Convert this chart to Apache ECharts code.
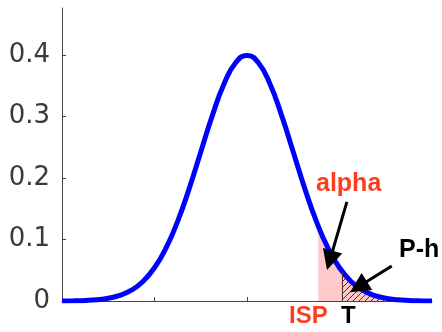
<!DOCTYPE html>
<html>
<head>
<meta charset="utf-8">
<script src="https://cdn.jsdelivr.net/npm/echarts@6/dist/echarts.min.js"></script>
<style>
  html, body { margin: 0; padding: 0; background: #fff; }
  #chart { width: 442px; height: 332px; }
</style>
</head>
<body>
<div id="chart"></div>
<script>
// density curve
const xVals = [-4, -3.75, -3.5, -3.25, -3, -2.75, -2.5, -2.25, -2, -1.75, -1.5, -1.25, -1, -0.75, -0.5, -0.25,
  0, 0.25, 0.5, 0.75, 1, 1.25, 1.5, 1.75, 2, 2.25, 2.5, 2.75, 3, 3.25, 3.5, 3.75, 4];
const yVals = [0.0001, 0.0004, 0.0009, 0.002, 0.0044, 0.0091, 0.0175, 0.0317, 0.054, 0.0863, 0.1295, 0.1826, 0.242, 0.3011, 0.3521, 0.3867,
  0.3989, 0.3867, 0.3521, 0.3011, 0.242, 0.1826, 0.1295, 0.0863, 0.054, 0.0317, 0.0175, 0.0091, 0.0044, 0.002, 0.0009, 0.0004, 0.0001];

// alpha region (ISP -> right tail)
const alphaX = [1.54, 1.75, 2, 2.25, 2.5, 2.75, 3, 3.25, 3.5, 3.75, 4];
const alphaY = [0.122, 0.0863, 0.054, 0.0317, 0.0175, 0.0091, 0.0044, 0.002, 0.0009, 0.0004, 0.0001];

// P-h region (T -> right), hatched
const hatchX = [2.05, 2.25, 2.5, 2.75, 3];
const hatchY = [0.049, 0.0317, 0.0175, 0.0091, 0.0044];

const yTicks = [0, 0.1, 0.2, 0.3, 0.4];
const xTicks = [-2, 0, 2];

// arrows: [start, head]
const alphaArrow = [[2.16, 0.161], [1.79, 0.066]];
const phArrow = [[3.13, 0.057], [2.41, 0.023]];

const zip = (xs, ys) => xs.map((x, i) => [x, ys[i]]);

// hatch pattern
const hatch = document.createElement('canvas');
hatch.width = 6;
hatch.height = 6;
const hctx = hatch.getContext('2d');
hctx.strokeStyle = '#4a3030';
hctx.lineWidth = 1;
hctx.beginPath();
hctx.moveTo(0, 6);
hctx.lineTo(6, 0);
hctx.stroke();

const myChart = echarts.init(document.getElementById('chart'), null, { renderer: 'canvas' });

const axisColor = '#444';
const red = '#ff3c1e';
const boldFont = (size) => `bold ${size}px "Liberation Sans", Arial, sans-serif`;

const arrowLine = (pts) => ({
  silent: true,
  symbol: ['none', 'path://M5,0 L10,13 L0,13 Z'],
  symbolSize: 20,
  label: { show: false },
  itemStyle: { color: '#000' },
  lineStyle: { color: '#000', width: 3, type: 'solid' },
  animation: false,
  data: [[{ coord: pts[0] }, { coord: pts[1] }]],
});

myChart.setOption({
  animation: false,
  grid: { left: 62, right: 10, top: 8, bottom: 31 },
  xAxis: {
    type: 'value',
    min: -4,
    max: 4,
    splitLine: { show: false },
    axisLine: { show: true, lineStyle: { color: axisColor, width: 1 } },
    axisTick: { show: true, inside: true, length: 4, customValues: xTicks, lineStyle: { color: axisColor } },
    axisLabel: { show: false },
  },
  yAxis: {
    type: 'value',
    min: 0,
    max: 0.476,
    splitLine: { show: false },
    axisLine: { show: true, onZero: false, lineStyle: { color: axisColor, width: 1 } },
    axisTick: { show: true, inside: true, length: 4, customValues: yTicks, lineStyle: { color: axisColor } },
    axisLabel: {
      customValues: yTicks,
      color: '#3a3a3a',
      fontFamily: 'DejaVu Sans',
      fontSize: 26,
      margin: 12,
    },
  },
  series: [
    {
      type: 'line',
      data: zip(alphaX, alphaY),
      smooth: true,
      showSymbol: false,
      lineStyle: { width: 0 },
      areaStyle: { color: '#ffc9c9', opacity: 1 },
      z: 1,
      silent: true,
    },
    {
      type: 'line',
      data: zip(hatchX, hatchY),
      smooth: true,
      showSymbol: false,
      lineStyle: { width: 0 },
      areaStyle: { color: { image: hatch, repeat: 'repeat' }, opacity: 1 },
      markLine: {
        silent: true,
        symbol: 'none',
        label: { show: false },
        lineStyle: { color: '#4a3030', width: 1, type: 'solid' },
        data: [[{ coord: [hatchX[0], 0] }, { coord: [hatchX[0], hatchY[0]] }]],
      },
      z: 2,
      silent: true,
    },
    {
      type: 'line',
      data: zip(xVals, yVals),
      smooth: true,
      showSymbol: false,
      lineStyle: { color: '#0000ff', width: 5 },
      z: 3,
    },
    {
      type: 'line',
      data: [],
      markLine: arrowLine(alphaArrow),
      z: 4,
    },
    {
      type: 'line',
      data: [],
      markLine: arrowLine(phArrow),
      z: 4,
    },
  ],
  graphic: [
    { type: 'text', left: 316, top: 172, style: { text: 'alpha', fill: red, font: boldFont(25) } },
    { type: 'text', left: 399, top: 238, style: { text: 'P-h', fill: '#000', font: boldFont(25) } },
    { type: 'text', left: 289, top: 304, style: { text: 'ISP', fill: red, font: boldFont(24) } },
    { type: 'text', left: 341, top: 304, style: { text: 'T', fill: '#000', font: boldFont(24) } },
  ],
});

window.addEventListener('resize', () => {
  myChart.resize();
});
</script>
</body>
</html>
